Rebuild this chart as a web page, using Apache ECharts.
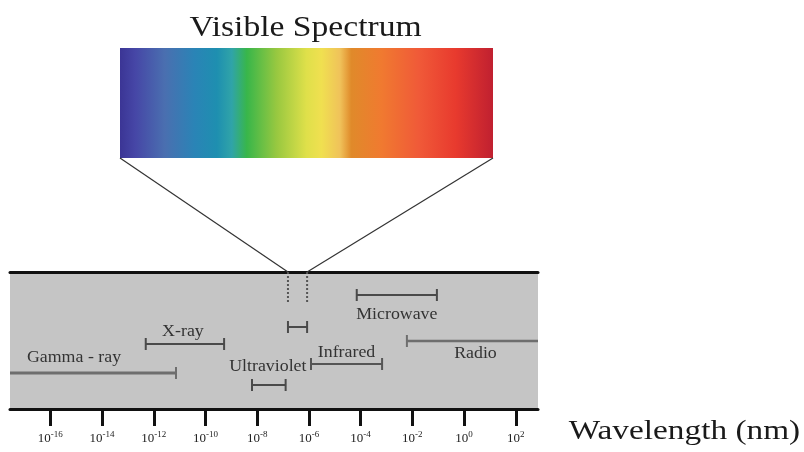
<!DOCTYPE html>
<html>
<head>
<meta charset="utf-8">
<script src="https://cdn.jsdelivr.net/npm/echarts@6/dist/echarts.min.js"></script>
<style>html,body{margin:0;padding:0;background:#fff}#c{width:804px;height:452px}</style>
</head>
<body>
<div id="c"></div>
<script>
// ---- data ----
const bandNames = ['Gamma - ray', 'X-ray', 'Ultraviolet', 'Visible', 'Infrared', 'Microwave', 'Radio'];
// log10 wavelength (nm) of range ends; null = runs off the axis
const rangeStart = [null, -12.31, -8.2, -6.81, -5.92, -4.15, -2.21];
const rangeEnd = [-11.14, -9.28, -6.9, -6.07, -3.17, -1.05, null];
const tickExponents = [-16, -14, -12, -10, -8, -6, -4, -2, 0, 2];
const axisTitle = 'Wavelength (nm)';
const insetTitle = 'Visible Spectrum';

// ---- layout (not data) ----
const rowLevel = [101, 72, 113, 55, 92, 23, 69];
const labelDx = [-19, -2, -1, 0, 0, 0, 3];
const labelDy = [-15, -12, -18, 0, -11, 20, 13];
const barColor = ['#6e6e6e', '#4a4a4a', '#4a4a4a', '#4a4a4a', '#555555', '#4a4a4a', '#6e6e6e'];
const barWidth = [3, 2, 2, 2, 2, 2, 2.5];
const X_MIN = -17.56, X_MAX = 2.86;

const chart = echarts.init(document.getElementById('c'), null, {renderer: 'canvas'});

const data = bandNames.map((n, i) => [
  rangeStart[i] === null ? X_MIN : rangeStart[i],
  rangeEnd[i] === null ? X_MAX : rangeEnd[i],
  rowLevel[i]
]);

function renderItem(params, api) {
  const i = params.dataIndex;
  const p1 = api.coord([api.value(0), api.value(2)]);
  const p2 = api.coord([api.value(1), api.value(2)]);
  const y = p1[1];
  const c = barColor[i];
  const children = [{
    type: 'line',
    shape: {x1: p1[0], y1: y, x2: p2[0], y2: y},
    style: {stroke: c, lineWidth: barWidth[i]}
  }];
  const capH = 6;
  if (rangeStart[i] !== null) {
    children.push({type: 'line', shape: {x1: p1[0], y1: y - capH, x2: p1[0], y2: y + capH},
      style: {stroke: c, lineWidth: 2}});
  }
  if (rangeEnd[i] !== null) {
    children.push({type: 'line', shape: {x1: p2[0], y1: y - capH, x2: p2[0], y2: y + capH},
      style: {stroke: c, lineWidth: 2}});
  }
  if (bandNames[i] !== 'Visible') {
    children.push({
      type: 'text',
      x: (p1[0] + p2[0]) / 2 + labelDx[i],
      y: y + labelDy[i],
      scaleX: 1.05,
      style: {text: bandNames[i], font: '17px "Liberation Serif"', fill: '#333',
        align: 'center', verticalAlign: 'middle'}
    });
  }
  return {type: 'group', children};
}

const option = {
  animation: false,
  backgroundColor: '#ffffff',
  grid: {left: 10, right: 266, top: 272, bottom: 43, show: true,
    backgroundColor: '#c5c5c5', borderWidth: 0},
  xAxis: [{
    type: 'value', min: X_MIN, max: X_MAX, position: 'bottom',
    splitLine: {show: false},
    axisLine: {show: true, onZero: false, lineStyle: {color: '#111', width: 3}},
    axisTick: {show: true, customValues: tickExponents, length: 17, inside: false,
      lineStyle: {color: '#111', width: 3}},
    axisLabel: {show: true, customValues: tickExponents, margin: 21,
      formatter: v => '{b|10}{s|' + v + '}',
      rich: {
        b: {fontFamily: 'Liberation Serif', fontSize: 13, color: '#222', verticalAlign: 'bottom'},
        s: {fontFamily: 'Liberation Serif', fontSize: 9, color: '#222', verticalAlign: 'bottom', padding: [0, 0, 6, 0]}
      }}
  }, {
    type: 'value', min: X_MIN, max: X_MAX, position: 'top',
    splitLine: {show: false},
    axisLine: {show: true, onZero: false, lineStyle: {color: '#111', width: 3}},
    axisTick: {show: false}, axisLabel: {show: false}
  }],
  yAxis: {type: 'value', min: 0, max: 137, inverse: true, show: false, splitLine: {show: false}},
  series: [{
    type: 'custom',
    renderItem,
    encode: {x: [0, 1], y: 2},
    data,
    clip: false,
    z: 5
  }]
};
chart.setOption(option);

// decorative inset, attached to the Visible range via the axis scale
const vi = bandNames.indexOf('Visible');
const vx1 = chart.convertToPixel({xAxisIndex: 0}, rangeStart[vi]);
const vx2 = chart.convertToPixel({xAxisIndex: 0}, rangeEnd[vi]);
const topY = chart.convertToPixel({yAxisIndex: 0}, 0);
const rect = {x: 120, y: 48, w: 373, h: 110};

chart.setOption({
  graphic: [
    {type: 'rect', shape: {x: rect.x, y: rect.y, width: rect.w, height: rect.h}, z: 10,
      style: {fill: new echarts.graphic.LinearGradient(0, 0, 1, 0, [
        {offset: 0, color: '#3b3595'},
        {offset: 0.04, color: '#4646a6'},
        {offset: 0.12, color: '#4a6fb0'},
        {offset: 0.2, color: '#2a84b6'},
        {offset: 0.26, color: '#1e8fb0'},
        {offset: 0.3, color: '#30a4a8'},
        {offset: 0.34, color: '#38b64a'},
        {offset: 0.42, color: '#98c840'},
        {offset: 0.5, color: '#dfe04a'},
        {offset: 0.54, color: '#f0e050'},
        {offset: 0.59, color: '#f0c25a'},
        {offset: 0.62, color: '#e08a2a'},
        {offset: 0.7, color: '#f07a30'},
        {offset: 0.8, color: '#f05a38'},
        {offset: 0.9, color: '#e83a2e'},
        {offset: 1, color: '#c02030'}
      ])}},
    {type: 'text', x: 305.5, y: 28, scaleX: 1.12, z: 10,
      style: {text: insetTitle, font: '30px "Liberation Serif"', fill: '#1a1a1a',
        align: 'center', verticalAlign: 'middle'}},
    {type: 'line', z: 10, shape: {x1: rect.x, y1: rect.y + rect.h, x2: vx1, y2: topY},
      style: {stroke: '#333', lineWidth: 1.2}},
    {type: 'line', z: 10, shape: {x1: rect.x + rect.w, y1: rect.y + rect.h, x2: vx2, y2: topY},
      style: {stroke: '#333', lineWidth: 1.2}},
    {type: 'line', z: 10, shape: {x1: vx1, y1: topY, x2: vx1, y2: topY + 31},
      style: {stroke: '#555', lineWidth: 2, lineDash: [2, 2]}},
    {type: 'line', z: 10, shape: {x1: vx2, y1: topY, x2: vx2, y2: topY + 31},
      style: {stroke: '#555', lineWidth: 2, lineDash: [2, 2]}},
    {type: 'text', x: 684.5, y: 432, scaleX: 1.19, z: 10,
      style: {text: axisTitle, font: '28px "Liberation Serif"', fill: '#1a1a1a',
        align: 'center', verticalAlign: 'middle'}}
  ]
});
</script>
</body>
</html>
